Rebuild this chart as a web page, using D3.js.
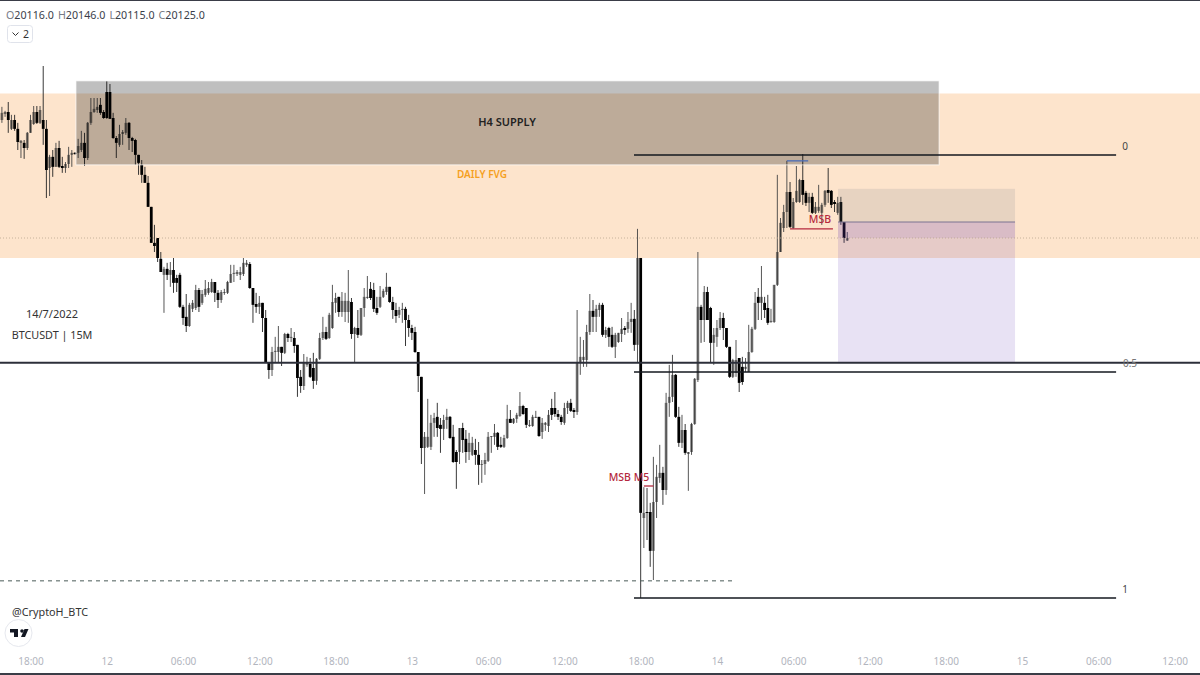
<!DOCTYPE html>
<html>
<head>
<meta charset="utf-8">
<title>BTCUSDT 15M</title>
<script src="https://cdn.jsdelivr.net/npm/d3@7"></script>
<style>
  html, body { margin: 0; padding: 0; background: #fff; }
  svg { display: block; font-family: "Noto Sans", sans-serif; }
  .candles { filter: blur(0.3px); }
</style>
</head>
<body>
<div id="chart"></div>
<script>
// 15 minute candles, first bar is 11 Jul 15:45
var opens = [20538,20559,20566,20507,20538,20507,20458,20458,20440,20493,20524,20566,20528,20538,20507,20370,20409,20374,20440,20377,20370,20384,20416,20423,20423,20433,20458,20405,20528,20566,20573,20591,20566,20636,20636,20545,20475,20451,20489,20493,20528,20475,20468,20416,20381,20346,20318,20234,20108,20125,20052,19996,20017,19996,20013,19985,19996,19884,19849,19817,19877,19880,19943,19898,19926,19933,19936,19971,19933,19908,19933,19933,19968,19999,19999,19996,19999,20031,20034,19950,19894,19884,19898,19845,19691,19663,19726,19726,19744,19723,19789,19775,19775,19751,19639,19607,19681,19684,19670,19625,19702,19775,19796,19775,19810,19898,19919,19866,19866,19866,19901,19789,19810,19786,19880,19915,19947,19943,19880,19884,19919,19936,19954,19901,19873,19856,19873,19877,19838,19810,19796,19726,19639,19390,19394,19394,19478,19499,19471,19457,19488,19499,19429,19376,19376,19460,19422,19376,19366,19383,19366,19331,19334,19345,19429,19429,19443,19401,19394,19425,19492,19478,19492,19502,19537,19530,19467,19467,19495,19499,19446,19471,19467,19530,19530,19509,19499,19478,19530,19548,19523,19516,19691,19698,19698,19796,19870,19849,19873,19891,19786,19810,19786,19744,19761,19789,19810,19807,19831,19842,19751,20055,19145,19166,19166,19030,19201,19285,19303,19243,19548,19569,19646,19499,19408,19453,19369,19376,19474,19628,19884,19838,19936,19880,19758,19779,19810,19845,19810,19744,19639,19653,19705,19674,19667,19656,19726,19807,19919,19898,19898,19880,19831,19831,19961,20076,20160,20216,20286,20160,20251,20251,20328,20283,20248,20269,20213,20220,20213,20241,20293,20290,20251,20213,20251,20181,20116];
var highs = [20584,20570,20601,20556,20556,20528,20468,20468,20496,20556,20587,20587,20587,20727,20538,20416,20433,20458,20465,20409,20391,20444,20433,20426,20472,20500,20493,20531,20615,20615,20615,20615,20573,20674,20664,20563,20482,20521,20503,20545,20531,20479,20472,20416,20398,20374,20342,20234,20171,20125,20076,20024,20038,20041,20055,19996,20003,19891,19929,19898,19908,19961,19950,19943,19978,19971,19982,19971,19943,19943,19947,19975,20031,20031,20013,20024,20055,20048,20041,19950,19933,19922,19898,19873,19691,19744,19779,19817,19744,19793,19793,19810,19796,19751,19663,19719,19709,19705,19723,19705,19793,19849,19814,19863,19961,19933,19919,19936,19933,20013,19915,19814,19873,19880,19950,19992,19971,19968,19919,19957,19947,20003,19954,19919,19898,19884,19898,19884,19856,19821,19814,19726,19639,19446,19562,19506,19513,19548,19495,19506,19527,19502,19471,19383,19460,19478,19453,19443,19429,19422,19411,19348,19373,19446,19432,19474,19446,19429,19436,19541,19523,19495,19513,19586,19541,19530,19488,19506,19520,19499,19495,19481,19523,19562,19586,19523,19506,19548,19555,19562,19530,19873,19779,19768,19821,19929,19908,19891,19898,19898,19814,19814,19814,19793,19793,19845,19817,19866,19898,19873,20157,20055,19253,19250,19198,19359,19331,19401,19324,19583,19681,19716,19649,19534,19506,19474,19376,19478,19635,20076,19891,19957,19954,19884,19810,19838,19866,19863,19810,19744,19702,19768,19705,19709,19705,19821,19814,19936,19950,20027,19919,19926,19877,19961,20346,20195,20241,20395,20321,20265,20377,20332,20419,20290,20283,20283,20251,20311,20248,20293,20370,20293,20258,20269,20269,20181,20146];
var lows = [20528,20549,20493,20503,20500,20433,20405,20402,20433,20493,20521,20524,20524,20451,20265,20272,20339,20374,20370,20353,20353,20370,20374,20416,20405,20426,20377,20398,20521,20563,20563,20556,20542,20542,20542,20472,20405,20444,20451,20486,20433,20426,20381,20346,20318,20318,20234,20108,20076,20041,20006,19863,19978,19954,19933,19936,19880,19821,19796,19814,19866,19873,19866,19891,19919,19926,19933,19901,19880,19898,19926,19929,19968,19971,19992,19978,19992,20024,19947,19828,19863,19859,19796,19691,19632,19642,19691,19691,19677,19719,19761,19761,19723,19569,19583,19593,19674,19635,19597,19611,19698,19768,19768,19772,19807,19863,19849,19849,19831,19828,19772,19691,19775,19782,19849,19912,19908,19866,19856,19880,19915,19926,19898,19842,19828,19845,19828,19747,19779,19768,19723,19586,19334,19229,19390,19383,19429,19429,19373,19418,19457,19422,19338,19247,19334,19373,19338,19348,19362,19331,19261,19268,19296,19341,19373,19401,19383,19390,19390,19422,19478,19474,19478,19499,19506,19460,19464,19464,19495,19429,19422,19450,19446,19488,19499,19488,19471,19471,19509,19516,19495,19506,19646,19674,19674,19786,19796,19796,19849,19779,19775,19744,19740,19705,19758,19761,19786,19793,19793,19730,19688,18865,19040,19068,18974,18928,19145,19268,19191,19226,19499,19551,19495,19394,19390,19366,19240,19366,19471,19621,19758,19761,19838,19691,19681,19744,19803,19768,19740,19635,19635,19639,19586,19611,19656,19656,19723,19803,19838,19838,19845,19821,19828,19828,19957,20076,20146,20160,20160,20157,20248,20248,20241,20237,20216,20209,20209,20213,20171,20234,20248,20230,20216,20206,20171,20108,20115];
var closes = [20563,20566,20538,20538,20507,20461,20465,20440,20493,20538,20566,20528,20573,20507,20363,20409,20374,20440,20374,20370,20384,20416,20423,20419,20447,20458,20405,20528,20566,20577,20584,20563,20545,20545,20542,20475,20458,20489,20496,20528,20475,20465,20416,20388,20346,20318,20234,20108,20097,20055,20006,20017,19996,20013,19968,19968,19884,19845,19817,19891,19898,19943,19884,19929,19947,19950,19971,19933,19908,19936,19936,19971,19999,20003,20006,20006,20038,20038,19950,19891,19884,19898,19845,19691,19663,19726,19730,19744,19723,19789,19775,19779,19747,19635,19607,19688,19688,19639,19625,19702,19775,19796,19772,19856,19901,19915,19866,19905,19905,19905,19789,19810,19786,19880,19919,19919,19915,19877,19863,19919,19940,19954,19901,19873,19852,19873,19877,19838,19810,19793,19726,19642,19390,19429,19429,19478,19495,19460,19457,19488,19499,19425,19341,19341,19460,19418,19376,19408,19408,19366,19331,19334,19348,19429,19432,19443,19394,19394,19425,19492,19478,19492,19506,19537,19509,19471,19471,19499,19499,19432,19478,19478,19506,19506,19509,19499,19481,19530,19548,19520,19516,19691,19709,19709,19796,19870,19849,19877,19891,19786,19803,19779,19744,19786,19793,19807,19803,19831,19842,19751,20055,19163,19163,19163,19030,19201,19289,19303,19243,19548,19569,19646,19499,19408,19453,19373,19376,19474,19632,19884,19838,19936,19838,19758,19786,19810,19845,19810,19744,19639,19698,19698,19618,19621,19674,19726,19807,19898,19898,19919,19873,19828,19835,19961,20076,20178,20216,20286,20164,20251,20290,20328,20276,20248,20269,20213,20234,20234,20241,20290,20283,20241,20244,20248,20181,20125,20125];

// time axis, one tick every 24 bars starting at bar 9
var tickBars = [9,33,57,81,105,129,153,177,201,225,249,273,297,321,345,369];
var tickLabels = ["18:00","12","06:00","12:00","18:00","13","06:00","12:00","18:00","14","06:00","12:00","18:00","15","06:00","12:00"];

// legend
var legendKeys = ["O", "H", "L", "C"];
var legendValues = ["20116.0", "20146.0", "20115.0", "20125.0"];

// drawings, as [bar from, bar to, price top, price bottom]
var fvgZone = [20629, 20055];
var supplyBox = [23.3, 294.9, 20675, 20381];
var targetBox = [263.1, 318.8, 20297, 20181];
var stopBox = [263.1, 318.8, 20181, 19691];
var openBox = [263.1, 318.8, 20181, 20125];

// fib levels and their price
var fibNames = ["0", "0.5", "1"];
var fibPrices = [20415.5, 19656, 18865];
var fibBars = [198.9, 350.6];
var midLine = 19688;
var lastPrice = 20125;
var lowLine = 18925;
var lowLineEnd = 231;

var width = 1200, height = 675;

var x = d3.scaleLinear().domain([0, 377]).range([1.9, 1200]);
var y = d3.scaleLinear().domain([20958, 18858]).range([0, 600]);

var svg = d3.select("#chart").append("svg")
    .attr("width", width)
    .attr("height", height);

function box(b, fill) {
    return svg.append("rect")
        .attr("x", x(b[0]))
        .attr("width", x(b[1]) - x(b[0]))
        .attr("y", y(b[2]))
        .attr("height", y(b[3]) - y(b[2]))
        .attr("fill", fill);
}

// daily fvg band goes behind the candles
svg.append("rect")
    .attr("x", 0).attr("width", width)
    .attr("y", y(fvgZone[0]) - 0.5)
    .attr("height", y(fvgZone[1]) - y(fvgZone[0]) + 0.5)
    .attr("fill", "#fde4cc");

var bars = d3.range(opens.length);
var candles = svg.append("g").attr("class", "candles");

// wicks
candles.append("g").selectAll("line").data(bars).join("line")
    .attr("x1", i => x(i)).attr("x2", i => x(i))
    .attr("y1", i => y(highs[i])).attr("y2", i => y(lows[i]))
    .attr("stroke", i => closes[i] >= opens[i] ? "#444" : "#222")
    .attr("stroke-width", 0.9);

// bodies
candles.append("g").selectAll("rect").data(bars).join("rect")
    .attr("x", i => x(i) - 1.4)
    .attr("width", 2.8)
    .attr("y", i => y(Math.max(opens[i], closes[i])))
    .attr("height", i => Math.max(1, Math.abs(y(opens[i]) - y(closes[i]))))
    .attr("fill", i => closes[i] >= opens[i] ? "rgba(30,30,30,0.52)" : "#000");

// h4 supply on top of the candles
box(supplyBox, "rgba(0,0,0,0.25)")
    .attr("stroke", "#fff")
    .attr("stroke-opacity", 0.7);

// short position tool
box(targetBox, "rgba(120,123,134,0.16)");
box(stopBox, "rgba(103,58,183,0.15)");
box(openBox, "rgba(103,58,183,0.1)");
svg.append("line")
    .attr("x1", x(targetBox[0])).attr("x2", x(targetBox[1]))
    .attr("y1", y(targetBox[3])).attr("y2", y(targetBox[3]))
    .attr("stroke", "#7a7390").attr("stroke-width", 1);

// last price dotted line
svg.append("line")
    .attr("x1", 0).attr("x2", width)
    .attr("y1", y(lastPrice)).attr("y2", y(lastPrice))
    .attr("stroke", "#b8a590").attr("stroke-width", 0.8)
    .attr("stroke-dasharray", "1 2");

// dashed low
svg.append("line")
    .attr("x1", 0).attr("x2", x(lowLineEnd))
    .attr("y1", y(lowLine)).attr("y2", y(lowLine))
    .attr("stroke", "#4a5a58").attr("stroke-width", 1)
    .attr("stroke-dasharray", "4 4");

// full width 0.5 line
svg.append("line")
    .attr("x1", 0).attr("x2", width)
    .attr("y1", y(midLine)).attr("y2", y(midLine))
    .attr("stroke", "#2c2f3a").attr("stroke-width", 2);

// fib lines
fibPrices.forEach(function(p, k) {
    svg.append("line")
        .attr("x1", x(fibBars[0])).attr("x2", x(fibBars[1]))
        .attr("y1", y(p)).attr("y2", y(p))
        .attr("stroke", "#15181f").attr("stroke-width", 1.5);
    svg.append("text")
        .attr("x", k == 1 ? 1130 : 1125)
        .attr("y", y(p) + (k == 1 ? -5 : -5))
        .attr("text-anchor", "middle")
        .attr("font-size", 10)
        .attr("fill", k == 1 ? "#777" : "#444")
        .text(fibNames[k]);
});

// msb marks
function mark(b0, b1, p, color) {
    svg.append("line")
        .attr("x1", x(b0)).attr("x2", x(b1))
        .attr("y1", y(p)).attr("y2", y(p))
        .attr("stroke", color).attr("stroke-width", 1.3);
}
mark(248, 261.5, 20157, "#b5293e");
mark(202, 205, 19257, "#b5293e");
mark(247, 253.7, 20395, "#4a6cb8");

function label(tx, ty, str, size, color, anchor, weight) {
    svg.append("text")
        .attr("x", tx).attr("y", ty)
        .attr("font-size", size)
        .attr("fill", color)
        .attr("text-anchor", anchor || "start")
        .attr("font-weight", weight || "normal")
        .text(str);
}

label(507, 126, "H4 SUPPLY", 11, "#222", "middle", 600);
label(482, 178, "DAILY FVG", 10, "#f5a01e", "middle", 600);
label(820, 223, "MSB", 10.5, "#b5293e", "middle", 500);
label(629, 481, "MSB M5", 10.5, "#b5293e", "middle", 500);
label(52, 318, "14/7/2022", 11, "#333", "middle");
label(52, 339, "BTCUSDT | 15M", 10.8, "#333", "middle");
label(12, 616, "@CryptoH_BTC", 10.8, "#333");

// legend on top left
var legend = svg.append("text")
    .attr("x", 6).attr("y", 19)
    .attr("font-size", 10.7);
legendKeys.forEach(function(key, k) {
    legend.append("tspan").attr("fill", "#787b86").attr("dx", k ? 4 : 0).text(key);
    legend.append("tspan").attr("fill", "#3a3e4a").text(legendValues[k]);
});
svg.append("rect")
    .attr("x", 7.5).attr("y", 25.5).attr("width", 25).attr("height", 17).attr("rx", 3)
    .attr("fill", "#fff").attr("stroke", "#e0e3eb");
svg.append("path")
    .attr("d", "M12.5 32.5 l3 3 l3 -3")
    .attr("fill", "none").attr("stroke", "#333").attr("stroke-width", 1);
label(23, 38, "2", 10.5, "#333");

// tradingview badge
svg.append("circle")
    .attr("cx", 18.5).attr("cy", 633).attr("r", 13.5)
    .attr("fill", "#fff").attr("stroke", "#e6e8ee");
svg.append("path")
    .attr("d", "M10 629 h8 v8 h-4 v-4.5 h-4 z M22 631 m-1.8 0 a1.8 1.8 0 1 0 3.6 0 a1.8 1.8 0 1 0 -3.6 0 M24.5 629 h4 l-3.5 8 h-4 z")
    .attr("fill", "#131722");

// time axis
var axis = d3.axisBottom(x)
    .tickValues(tickBars)
    .tickFormat((d, k) => tickLabels[k])
    .tickSize(0);
var gx = svg.append("g")
    .attr("transform", "translate(0,655)")
    .call(axis);
gx.select(".domain").remove();
gx.selectAll("text")
    .attr("font-family", "'Noto Sans', sans-serif")
    .attr("font-size", 10)
    .attr("fill", "#b2b5be");

// frame lines of the screenshot
svg.append("rect").attr("x", 0).attr("y", 0).attr("width", width).attr("height", 1).attr("fill", "#3a3d47");
svg.append("rect").attr("x", 0).attr("y", 673).attr("width", width).attr("height", 2).attr("fill", "#3a3d47");
</script>
</body>
</html>
